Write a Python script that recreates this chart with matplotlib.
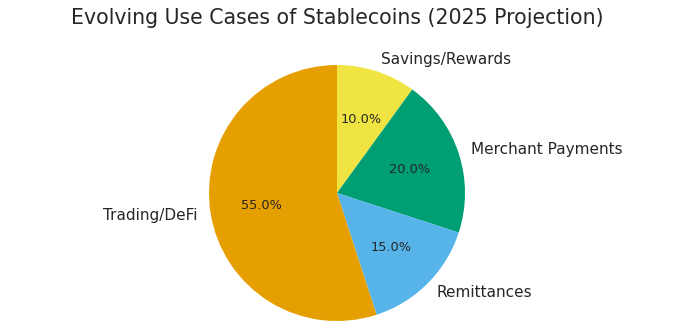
import numpy as np
import matplotlib
matplotlib.use("Agg")
from matplotlib import pyplot as plt

labels = ["Savings/Rewards", "Merchant Payments", "Remittances", "Trading/DeFi"]
shares = [10, 20, 15, 55]
colors = ["#F0E442", "#009E73", "#56B4E9", "#E69F00"]

plt.rcParams['font.family'] = ['DejaVu Sans']
text_color = "#262626"

fig = plt.figure(figsize=(6.93, 3.36), dpi=100)
ax = fig.add_axes([0, 0, 1, 1])

# pie centre / radius in pixels
cx, cy, r = 337, 336 - 193, 128

wedges, texts, autotexts = ax.pie(shares, labels=labels, colors=colors,
                                  startangle=90, counterclock=False,
                                  autopct="%1.1f%%",
                                  textprops={"color": text_color})
for t in texts:
    t.set_fontsize(11)
for t in autotexts:
    t.set_fontsize(9.3)

ax.set_aspect("auto")
ax.set_xlim(-cx / r, (693 - cx) / r)
ax.set_ylim(-cy / r, (336 - cy) / r)

fig.text(cx / 693, 1 - 18 / 336, "Evolving Use Cases of Stablecoins (2025 Projection)",
         ha="center", va="center", fontsize=14.8, color=text_color)

fig.savefig("out.png", dpi=100)
